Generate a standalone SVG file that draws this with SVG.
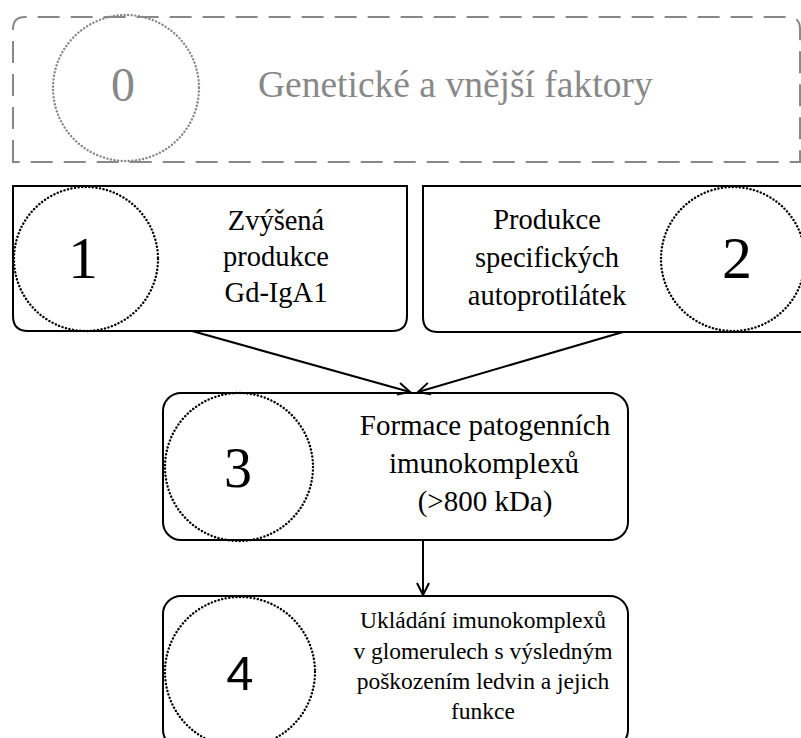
<svg xmlns="http://www.w3.org/2000/svg" width="801" height="738" viewBox="0 0 801 738">
<defs>
<marker id="arr" markerUnits="userSpaceOnUse" markerWidth="16" markerHeight="16" refX="13" refY="8" orient="auto">
<path d="M1,2 L13,8 L1,14" fill="none" stroke="#000" stroke-width="2"/>
</marker>
<style>
.box{fill:#fff;stroke:#000;stroke-width:2}
.dot{fill:none;stroke:#000;stroke-width:2.4;stroke-dasharray:0.1 3.5;stroke-linecap:round}
.t{font-family:"Liberation Serif","DejaVu Serif",serif;fill:#000;text-anchor:middle}
.num{font-family:"Liberation Serif","DejaVu Serif",serif;text-anchor:middle}
.conn{stroke:#000;stroke-width:2;fill:none}
</style>
</defs>
<rect width="801" height="738" fill="#fff"/>
<g id="node0">
<path d="M13,162 L13,29 Q13,17 25,17 L788,17 Q800,17 800,29 L800,162 Z" fill="#fff" stroke="#888" stroke-width="2" stroke-dasharray="22 11"/>
<circle cx="126" cy="88" r="73" fill="none" stroke="#888" stroke-width="2.4" stroke-dasharray="0.1 3.5" stroke-linecap="round"/>
<text class="num" x="123" y="101" font-size="48" fill="#888">0</text>
<text x="258" y="97" font-family="'Liberation Serif','DejaVu Serif',serif" font-size="37.5" fill="#888">Genetické a vnější faktory</text>
</g>
<g id="node1">
<path class="box" d="M13,186 L407,186 L407,316 Q407,331 392,331 L28,331 Q13,331 13,316 Z"/>
<circle class="dot" cx="86" cy="259" r="72"/>
<text class="num" x="83" y="278" font-size="60">1</text>
<text class="t" x="276" y="230" font-size="28.5">Zvýšená</text>
<text class="t" x="276" y="266" font-size="28.5">produkce</text>
<text class="t" x="276" y="302" font-size="28.5">Gd-IgA1</text>
</g>
<g id="node2">
<path class="box" d="M423,186 L812,186 L812,316 Q812,332 797,332 L438,332 Q423,332 423,317 Z"/>
<circle class="dot" cx="733" cy="259" r="72"/>
<text class="num" x="737" y="278" font-size="60">2</text>
<text class="t" x="547" y="229" font-size="28.5">Produkce</text>
<text class="t" x="547" y="267" font-size="28.5">specifických</text>
<text class="t" x="547" y="305" font-size="28.5">autoprotilátek</text>
</g>
<g id="node3">
<rect class="box" x="163" y="393" width="465" height="147" rx="18" ry="18"/>
<circle class="dot" cx="239" cy="467" r="74"/>
<text class="num" x="238" y="487" font-size="56">3</text>
<text class="t" x="485" y="435" font-size="29">Formace patogenních</text>
<text class="t" x="484" y="473" font-size="29">imunokomplexů</text>
<text class="t" x="485" y="511" font-size="29">(&gt;800 kDa)</text>
</g>
<g id="node4">
<rect class="box" x="163" y="596" width="465" height="152" rx="18" ry="18"/>
<circle class="dot" cx="240" cy="672" r="75"/>
<text x="240" y="690" font-family="'Liberation Sans',Arial,sans-serif" font-size="49" text-anchor="middle">4</text>
<text class="t" x="483" y="628" font-size="23.5">Ukládání imunokomplexů</text>
<text class="t" x="483" y="659" font-size="23.5">v glomerulech s výsledným</text>
<text class="t" x="483" y="689" font-size="23.5">poškozením ledvin a jejich</text>
<text class="t" x="483" y="719" font-size="23.5">funkce</text>
</g>
<g id="connectors">
<line class="conn" x1="192" y1="331" x2="410" y2="392" marker-end="url(#arr)"/>
<line class="conn" x1="623" y1="332" x2="418" y2="392" marker-end="url(#arr)"/>
<line class="conn" x1="423" y1="540" x2="423" y2="595" marker-end="url(#arr)"/>
</g>
</svg>
